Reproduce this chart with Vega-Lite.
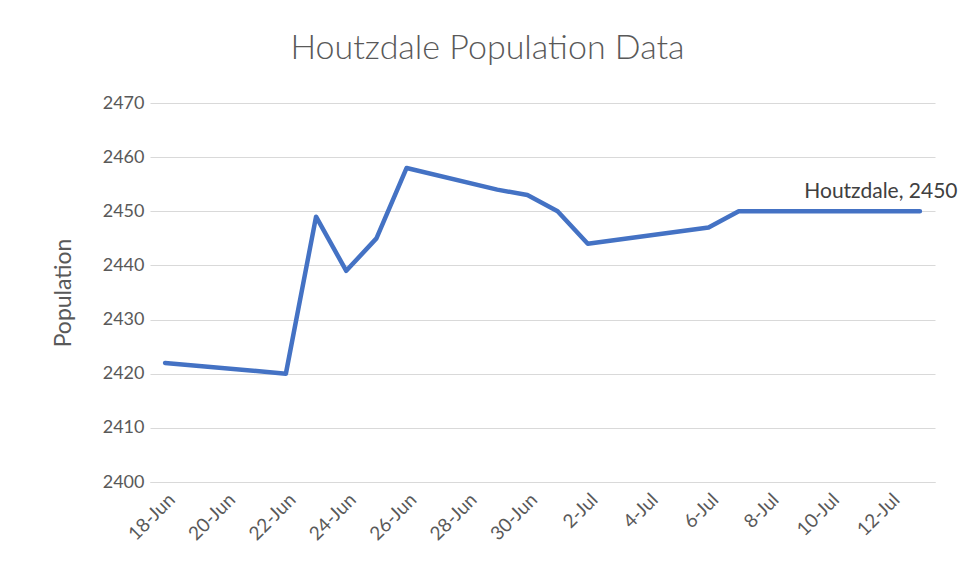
{
  "$schema": "https://vega.github.io/schema/vega-lite/v6.json",
  "width": 785,
  "height": 379,
  "autosize": "none",
  "padding": {"left": 150, "top": 103, "right": 27, "bottom": 98},
  "background": "white",
  "title": {
    "text": "Houtzdale Population Data",
    "font": "Lato",
    "fontSize": 34,
    "fontWeight": 300,
    "color": "#595959",
    "anchor": "middle",
    "dx": -55,
    "offset": 28
  },
  "data": {
    "values": [
      {"date": "2020-06-18", "pop": 2422, "label": ""},
      {"date": "2020-06-22", "pop": 2420, "label": ""},
      {"date": "2020-06-23", "pop": 2449, "label": ""},
      {"date": "2020-06-24", "pop": 2439, "label": ""},
      {"date": "2020-06-25", "pop": 2445, "label": ""},
      {"date": "2020-06-26", "pop": 2458, "label": ""},
      {"date": "2020-06-29", "pop": 2454, "label": ""},
      {"date": "2020-06-30", "pop": 2453, "label": ""},
      {"date": "2020-07-01", "pop": 2450, "label": ""},
      {"date": "2020-07-02", "pop": 2444, "label": ""},
      {"date": "2020-07-06", "pop": 2447, "label": ""},
      {"date": "2020-07-07", "pop": 2450, "label": ""},
      {"date": "2020-07-13", "pop": 2450, "label": "Houtzdale, 2450"}
    ]
  },
  "layer": [
    {
      "mark": {"type": "line", "color": "#4472C4", "strokeWidth": 4.5, "strokeCap": "round", "strokeJoin": "round"},
      "encoding": {
        "x": {
          "field": "date", "type": "temporal",
          "scale": {"domain": [{"year": 2020, "month": 6, "date": 17, "hours": 12}, {"year": 2020, "month": 7, "date": 13, "hours": 12}]},
          "axis": {
            "title": null,
            "format": "%-d-%b",
            "values": [
              {"year": 2020, "month": 6, "date": 18},
              {"year": 2020, "month": 6, "date": 20},
              {"year": 2020, "month": 6, "date": 22},
              {"year": 2020, "month": 6, "date": 24},
              {"year": 2020, "month": 6, "date": 26},
              {"year": 2020, "month": 6, "date": 28},
              {"year": 2020, "month": 6, "date": 30},
              {"year": 2020, "month": 7, "date": 2},
              {"year": 2020, "month": 7, "date": 4},
              {"year": 2020, "month": 7, "date": 6},
              {"year": 2020, "month": 7, "date": 8},
              {"year": 2020, "month": 7, "date": 10},
              {"year": 2020, "month": 7, "date": 12}
            ],
            "labelAngle": -45,
            "labelAlign": "right",
            "labelBaseline": "top",
            "labelFont": "Lato",
            "labelFontSize": 19,
            "labelColor": "#595959",
            "labelPadding": 8,
            "labelOverlap": false,
            "labelFlush": false,
            "grid": false,
            "ticks": false,
            "domain": true,
            "domainColor": "#d9d9d9",
            "domainWidth": 1
          }
        },
        "y": {
          "field": "pop", "type": "quantitative",
          "scale": {"domain": [2400, 2470], "nice": false, "zero": false},
          "axis": {
            "title": "Population",
            "titleFont": "Lato",
            "titleFontSize": 23,
            "titleFontWeight": "normal",
            "titleColor": "#595959",
            "titlePadding": 27,
            "format": "d",
            "values": [2400, 2410, 2420, 2430, 2440, 2450, 2460, 2470],
            "labelFont": "Lato",
            "labelFontSize": 18,
            "labelColor": "#595959",
            "labelPadding": 6,
            "grid": true,
            "gridColor": "#d9d9d9",
            "gridWidth": 1,
            "ticks": false,
            "domain": false
          }
        }
      }
    },
    {
      "mark": {"type": "text", "font": "Lato", "fontSize": 21, "color": "#404040", "align": "center", "baseline": "middle", "dx": -39, "dy": -19},
      "encoding": {
        "x": {"field": "date", "type": "temporal"},
        "y": {"field": "pop", "type": "quantitative"},
        "text": {"field": "label"}
      }
    }
  ],
  "config": {"view": {"stroke": null}}
}
